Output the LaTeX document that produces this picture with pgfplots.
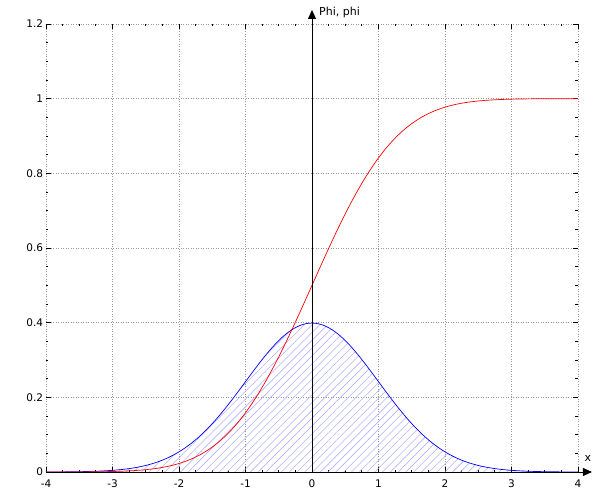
\documentclass[border=0pt]{standalone}
\usepackage{fontspec}
\setmainfont{DejaVu Sans}
\usepackage{pgfplots}
\pgfplotsset{compat=1.18}
\usetikzlibrary{arrows.meta,patterns.meta}
\begin{document}
\fontsize{11bp}{13bp}\selectfont
\begin{tikzpicture}
\useasboundingbox (-46bp,-17bp) rectangle (548bp,472bp);
\begin{axis}[
  at={(0,0)}, anchor=south west,
  scale only axis, width=532bp, height=448bp,
  xmin=-4, xmax=4, ymin=0, ymax=1.2,
  xtick={-4,-3,...,4}, ytick={0,0.2,...,1.2},
  yticklabels={0,0.2,0.4,0.6,0.8,1,1.2},
  minor tick num=3,
  tick pos=both,
  tick align=inside,
  major tick length=5bp, minor tick length=2.5bp,
  tick style={black, line width=0.6bp},
  minor tick style={black, line width=0.8bp},
  grid=major,
  major grid style={gray!80, line width=0.5bp, dash pattern=on 1bp off 1.5bp},
  axis line style={draw=none},
  /pgf/number format/assume math mode=true,
  ticklabel style={font=\fontsize{10.5bp}{12bp}\selectfont},
  xticklabel style={yshift=-3.5bp},
  yticklabel style={xshift=1bp},
  clip=false,
]
% filled area under pdf
\addplot[draw=none, pattern={Lines[angle=45,distance=5.5bp,line width=0.6bp]}, pattern color=blue!30] coordinates {
(-4.0,0.00013)(-3.8,0.00029)(-3.6,0.00061)(-3.4,0.00123)(-3.2,0.00238)
(-3.0,0.00443)(-2.9,0.00595)(-2.8,0.00792)(-2.7,0.01042)(-2.6,0.01358)
(-2.5,0.01753)(-2.4,0.02239)(-2.3,0.02833)(-2.2,0.03547)(-2.1,0.04398)
(-2.0,0.05399)(-1.9,0.06562)(-1.8,0.07895)(-1.7,0.09405)(-1.6,0.11092)
(-1.5,0.12952)(-1.4,0.14973)(-1.3,0.17137)(-1.2,0.19419)(-1.1,0.21785)
(-1.0,0.24197)(-0.9,0.26609)(-0.8,0.28969)(-0.7,0.31225)(-0.6,0.33322)
(-0.5,0.35207)(-0.4,0.36827)(-0.3,0.38139)(-0.2,0.39104)(-0.1,0.39695)
(0.0,0.39894)
(0.1,0.39695)(0.2,0.39104)(0.3,0.38139)(0.4,0.36827)(0.5,0.35207)
(0.6,0.33322)(0.7,0.31225)(0.8,0.28969)(0.9,0.26609)(1.0,0.24197)
(1.1,0.21785)(1.2,0.19419)(1.3,0.17137)(1.4,0.14973)(1.5,0.12952)
(1.6,0.11092)(1.7,0.09405)(1.8,0.07895)(1.9,0.06562)(2.0,0.05399)
(2.1,0.04398)(2.2,0.03547)(2.3,0.02833)(2.4,0.02239)(2.5,0.01753)
(2.6,0.01358)(2.7,0.01042)(2.8,0.00792)(2.9,0.00595)(3.0,0.00443)
(3.2,0.00238)(3.4,0.00123)(3.6,0.00061)(3.8,0.00029)(4.0,0.00013)
} \closedcycle;
% pdf
\addplot[blue, line width=0.7bp, smooth] coordinates {
(-4.0,0.00013)(-3.8,0.00029)(-3.6,0.00061)(-3.4,0.00123)(-3.2,0.00238)
(-3.0,0.00443)(-2.9,0.00595)(-2.8,0.00792)(-2.7,0.01042)(-2.6,0.01358)
(-2.5,0.01753)(-2.4,0.02239)(-2.3,0.02833)(-2.2,0.03547)(-2.1,0.04398)
(-2.0,0.05399)(-1.9,0.06562)(-1.8,0.07895)(-1.7,0.09405)(-1.6,0.11092)
(-1.5,0.12952)(-1.4,0.14973)(-1.3,0.17137)(-1.2,0.19419)(-1.1,0.21785)
(-1.0,0.24197)(-0.9,0.26609)(-0.8,0.28969)(-0.7,0.31225)(-0.6,0.33322)
(-0.5,0.35207)(-0.4,0.36827)(-0.3,0.38139)(-0.2,0.39104)(-0.1,0.39695)
(0.0,0.39894)
(0.1,0.39695)(0.2,0.39104)(0.3,0.38139)(0.4,0.36827)(0.5,0.35207)
(0.6,0.33322)(0.7,0.31225)(0.8,0.28969)(0.9,0.26609)(1.0,0.24197)
(1.1,0.21785)(1.2,0.19419)(1.3,0.17137)(1.4,0.14973)(1.5,0.12952)
(1.6,0.11092)(1.7,0.09405)(1.8,0.07895)(1.9,0.06562)(2.0,0.05399)
(2.1,0.04398)(2.2,0.03547)(2.3,0.02833)(2.4,0.02239)(2.5,0.01753)
(2.6,0.01358)(2.7,0.01042)(2.8,0.00792)(2.9,0.00595)(3.0,0.00443)
(3.2,0.00238)(3.4,0.00123)(3.6,0.00061)(3.8,0.00029)(4.0,0.00013)
};
% cdf
\addplot[red, line width=0.7bp, smooth] coordinates {
(-4.0,0.00003)(-3.8,0.00007)(-3.6,0.00016)(-3.4,0.00034)(-3.2,0.00069)
(-3.0,0.00135)(-2.9,0.00187)(-2.8,0.00256)(-2.7,0.00347)(-2.6,0.00466)
(-2.5,0.00621)(-2.4,0.00820)(-2.3,0.01072)(-2.2,0.01390)(-2.1,0.01786)
(-2.0,0.02275)(-1.9,0.02872)(-1.8,0.03593)(-1.7,0.04457)(-1.6,0.05480)
(-1.5,0.06681)(-1.4,0.08076)(-1.3,0.09680)(-1.2,0.11507)(-1.1,0.13567)
(-1.0,0.15866)(-0.9,0.18406)(-0.8,0.21186)(-0.7,0.24196)(-0.6,0.27425)
(-0.5,0.30854)(-0.4,0.34458)(-0.3,0.38209)(-0.2,0.42074)(-0.1,0.46017)
(0.0,0.50000)
(0.1,0.53983)(0.2,0.57926)(0.3,0.61791)(0.4,0.65542)(0.5,0.69146)
(0.6,0.72575)(0.7,0.75804)(0.8,0.78814)(0.9,0.81594)(1.0,0.84134)
(1.1,0.86433)(1.2,0.88493)(1.3,0.90320)(1.4,0.91924)(1.5,0.93319)
(1.6,0.94520)(1.7,0.95543)(1.8,0.96407)(1.9,0.97128)(2.0,0.97725)
(2.1,0.98214)(2.2,0.98610)(2.3,0.98928)(2.4,0.99180)(2.5,0.99379)
(2.6,0.99534)(2.7,0.99653)(2.8,0.99744)(2.9,0.99813)(3.0,0.99865)
(3.2,0.99931)(3.4,0.99966)(3.6,0.99984)(3.8,0.99993)(4.0,0.99997)
};
% axes with arrows
\draw[black, line width=0.8bp, -{Triangle[length=9bp,width=8bp]}] (axis cs:-4,0) -- (axis cs:4.21,0);
\draw[black, line width=0.8bp, -{Triangle[length=9bp,width=8bp]}] (axis cs:0,0) -- (axis cs:0,1.2375);
\node[anchor=west, inner sep=0pt] at ([xshift=7bp]axis cs:0,1.231) {Phi, phi};
\node[inner sep=0pt] at ([xshift=10bp,yshift=14bp]axis cs:4,0) {x};
\end{axis}
\end{tikzpicture}
\end{document}
